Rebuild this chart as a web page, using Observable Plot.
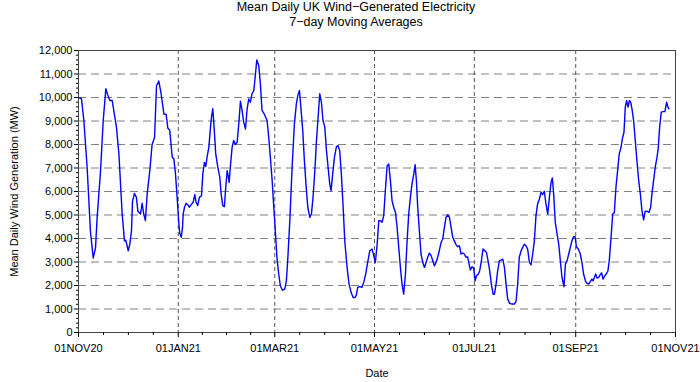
<!DOCTYPE html>
<html><head><meta charset="utf-8">
<script src="https://cdn.jsdelivr.net/npm/d3@7"></script>
<script src="https://cdn.jsdelivr.net/npm/@observablehq/plot@0.6"></script>
<style>
body{margin:0;background:#fff;font-family:"Liberation Sans",Arial,sans-serif;}
#wrap{width:700px;height:382px;position:relative;overflow:hidden;background:#fff}
.title{position:absolute;left:0;width:712px;text-align:center;font-size:12.5px;color:#000;line-height:15px}
#chart{position:absolute;top:32px;left:0}
</style></head><body>
<div id="wrap">
<div class="title" style="top:0px">Mean Daily UK Wind−Generated Electricity</div>
<div class="title" style="top:15px">7−day Moving Averages</div>
<div id="chart"></div>
</div>
<script>
const startDate = "2020-11-01";
// days after 01NOV20
const dayOffsets = [
0,1.8,3.3,5.3,7.3,9.0,10.4,11.4,13.5,15.1,16.7,17.9,19.2,20.6,23.2,24.7,26.7,28.1,28.9,30.4,31.4,32.4,33.0,34.2,35.4,36.3,37.9,38.9,39.9,40.9,42.0,43.6,45.0,46.5,47.7,49.1,50.5,52.2,53.6,54.6,55.8,
57.3,58.3,59.3,60.3,61.3,61.9,62.8,63.6,64.0,64.8,65.8,66.8,67.8,68.9,70.1,71.1,71.9,72.9,73.9,75.2,76.0,77.0,77.8,78.6,79.7,80.7,81.3,82.1,82.9,83.9,85.2,86.4,87.2,88.2,89.2,89.8,90.9,91.5,92.1,92.9,93.9,94.9,95.9,97.0,98.0,99.0,100.0,101.0,102.1,103.1,104.1,105.1,106.1,107.2,108.2,109.0,110.2,111.2,112.2,113.7,115.3,116.3,117.3,118.4,119.4,120.2,121.4,122.4,123.4,124.7,126.1,127.1,127.9,129.2,
130.6,132.0,133.2,134.1,135.1,136.1,137.1,138.1,139.2,140.2,141.4,142.4,143.4,144.5,145.5,146.5,147.5,148.5,149.5,150.6,151.6,152.8,153.6,154.4,155.2,156.5,157.7,158.7,159.7,160.7,161.8,162.8,164.2,165.4,166.7,167.9,169.1,169.9,170.7,171.9,173.2,174.4,175.6,176.8,178.1,
179.5,180.5,181.5,182.6,183.6,184.6,185.6,186.6,187.6,188.7,189.7,190.7,191.7,192.7,193.8,194.8,195.8,196.8,197.8,198.8,199.9,200.9,201.9,202.9,203.9,205.0,205.8,206.6,207.4,208.4,209.4,210.5,211.5,212.5,213.5,214.5,215.6,216.6,217.6,218.6,219.6,220.6,221.7,222.7,223.7,224.7,225.7,226.8,227.8,228.8,229.8,230.8,231.9,232.9,233.9,234.9,235.9,236.9,237.9,238.8,
239.6,240.6,241.6,242.5,243.3,244.5,245.3,246.3,247.3,248.4,249.4,250.4,251.4,252.4,253.5,254.3,255.3,256.3,257.3,258.3,259.4,260.4,261.4,262.4,263.6,265.1,266.5,267.5,268.5,269.5,270.6,271.6,272.6,273.6,274.6,275.7,276.7,277.7,278.7,279.7,280.7,281.8,282.8,283.8,284.8,285.8,286.9,287.9,288.9,289.7,290.5,291.5,292.6,293.6,294.6,295.6,296.8,297.7,298.7,299.7,300.7,301.7,302.7,
303.6,304.4,305.6,306.8,307.8,308.8,309.9,310.9,311.9,312.9,313.9,314.6,315.4,316.2,317.0,318.0,319.0,319.8,320.7,321.7,322.7,323.7,324.5,325.6,326.6,327.6,328.6,329.6,330.6,331.7,332.5,333.5,334.3,335.1,336.0,336.8,337.6,338.4,339.4,340.4,341.4,342.5,343.5,344.5,345.5,346.5,347.5,348.8,349.8,350.6,351.6,352.6,353.7,354.5,355.3,356.3,357.3,358.5,359.6,360.4,361.0
];
// 7-day moving average, MW
const windMW = [
10000,9950,9000,7000,4300,3170,3600,4900,6900,9000,10370,10100,9870,9870,8740,7600,5040,3900,3930,3480,3760,4330,5570,5920,5750,5160,5040,5500,5040,4760,5900,6900,8000,8300,10500,10700,10160,9300,9280,8700,8600,
7460,7390,6750,5750,4690,4220,4050,4470,5040,5330,5500,5440,5330,5440,5540,5870,5540,5400,5750,5820,6750,7240,7060,7460,7880,8740,9160,9520,8740,7600,7030,6600,5900,5400,5360,5970,6890,6680,6390,7100,7880,8170,8000,8100,8880,9840,9450,8950,8660,9520,9940,9800,10160,10300,11000,11600,11360,10580,9450,9280,9020,8300,7460,6460,5330,4470,3120,2490,1990,1800,1850,2200,3050,4760,
7030,8880,9730,10090,10300,9450,8600,7320,6180,5330,4900,5040,5750,6890,8170,9160,10160,9800,9020,8740,7740,6890,6320,6040,6600,7460,7910,7950,7740,6750,5330,3900,2770,2060,1700,1490,1490,1600,1920,1950,1920,2130,2490,2980,3480,
3550,3270,2980,3760,4760,4760,4690,4970,6040,7100,7170,6460,5610,5330,5110,4470,3620,2770,2060,1630,2490,3900,5040,5750,6320,6750,7140,6460,5330,4330,3340,2980,2770,2980,3200,3380,3270,3050,2840,2980,3200,3480,3840,3980,4470,4900,5010,4900,4470,4050,3900,3740,3650,3690,3340,3380,3340,3200,3220,2910,
2660,2800,2740,2200,2410,2490,2630,3050,3550,3480,3410,3050,2630,2060,1630,1630,2060,2630,3050,3080,3120,2770,2060,1420,1240,1210,1210,1320,2060,3200,3480,3620,3760,3690,3550,2980,2880,3340,3900,4970,5470,5680,5970,5870,6010,5470,5040,5750,6390,6580,5900,4690,4190,3760,3050,2340,1950,2910,3050,3340,3620,3900,4080,
4080,3650,3550,3340,2980,2490,2200,2090,2060,2170,2270,2200,2340,2490,2320,2340,2460,2540,2270,2410,2490,2630,3050,4050,5040,5110,6180,6890,7600,7880,8240,8520,9590,9870,9590,9870,9800,9520,9020,8170,7320,6460,5900,5180,4790,5160,5160,5110,5330,5900,6460,7030,7460,7880,8740,9380,9400,9400,9800,9590,9520
];
const tickDates = ["2020-11-01","2021-01-01","2021-03-01","2021-05-01","2021-07-01","2021-09-01","2021-11-01"];
const yTickValues = [0,1000,2000,3000,4000,5000,6000,7000,8000,9000,10000,11000,12000];
const yLabel = "Mean Daily Wind Generation (MW)";
const xLabel = "Date";

const t0 = new Date(startDate + "T00:00:00Z");
const data = dayOffsets.map((d, i) => ({date: new Date(t0.getTime() + d * 864e5), mw: windMW[i]}));
const majors = tickDates.map(s => new Date(s + "T00:00:00Z"));
const minorX = [];
for (let i = 0; i < majors.length - 1; i++) {
  const a = majors[i].getTime(), b = majors[i + 1].getTime();
  for (let k = 1; k <= 3; k++) minorX.push(new Date(a + (b - a) * k / 4));
}
const minorY = [];
for (let i = 0; i < yTickValues.length - 1; i++) {
  const a = yTickValues[i], b = yTickValues[i + 1];
  for (let k = 1; k <= 4; k++) minorY.push(a + (b - a) * k / 5);
}
const fmt = d => d3.utcFormat("%d%b%y")(d).toUpperCase();
const font = '"Liberation Sans",Arial,sans-serif';

const chart = Plot.plot({
  width: 700,
  height: 350,
  marginTop: 18,
  marginBottom: 50,
  marginLeft: 78,
  marginRight: 25,
  style: {fontFamily: font, fontSize: "11px", color: "#000", background: "#fff", overflow: "visible"},
  x: {type: "utc", domain: [majors[0], majors[majors.length - 1]]},
  y: {domain: [0, 12000]},
  marks: [
    Plot.ruleY(yTickValues.slice(1, -1), {stroke: "#808080", strokeWidth: 1, strokeDasharray: "8,5"}),
    Plot.ruleX(majors.slice(1, -1), {stroke: "#555", strokeWidth: 1, strokeDasharray: "4,3"}),
    Plot.line(data, {x: "date", y: "mw", stroke: "#0000ff", strokeWidth: 1.4}),
    Plot.frame({stroke: "#444", strokeWidth: 1}),
    Plot.axisX({ticks: minorX, tickFormat: () => "", tickSize: 3, label: null}),
    Plot.axisY({ticks: minorY, tickFormat: () => "", tickSize: 2, label: null}),
    Plot.axisX({ticks: majors, tickFormat: fmt, tickSize: 5, tickPadding: 7, label: xLabel, labelAnchor: "center", labelArrow: "none", labelOffset: 44}),
    Plot.axisY({ticks: yTickValues, tickFormat: d3.format(","), tickSize: 4, tickPadding: 2, label: yLabel, labelAnchor: "center", labelArrow: "none", labelOffset: 68})
  ]
});
document.getElementById("chart").appendChild(chart);
</script>
</body></html>
